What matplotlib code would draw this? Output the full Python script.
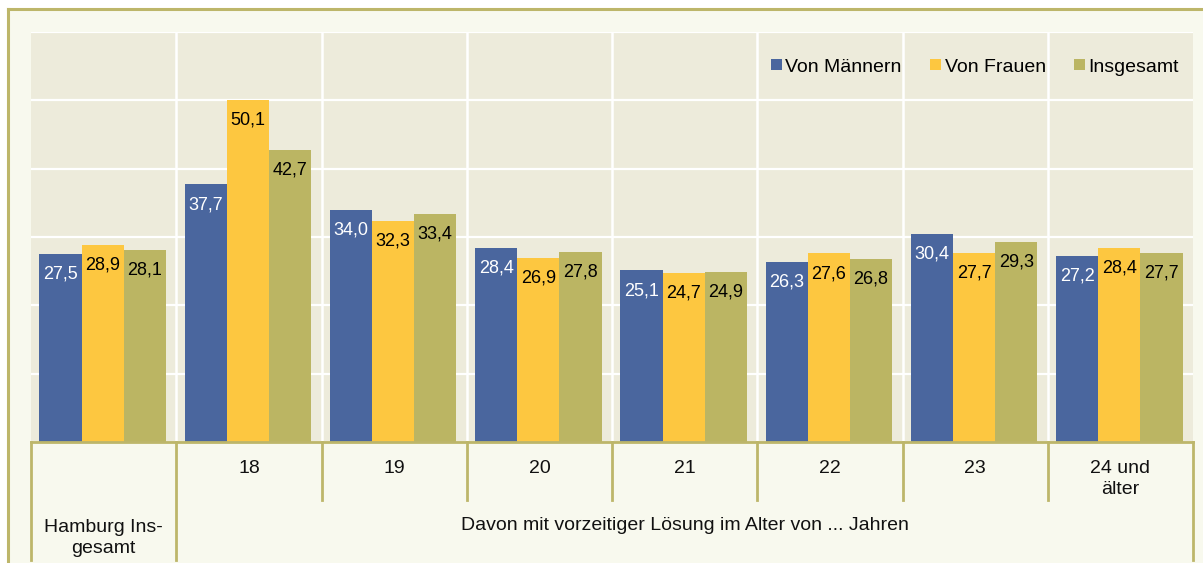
import matplotlib
matplotlib.use("Agg")
import matplotlib.pyplot as plt
import matplotlib.transforms as mtransforms
from matplotlib.patches import Rectangle, Patch
from matplotlib.lines import Line2D
import numpy as np

plt.rcParams['font.family'] = ['Liberation Sans', 'DejaVu Sans']

categories = ["", "18", "19", "20", "21", "22", "23", "24 und\nälter"]
group_labels = ["Hamburg Ins-\ngesamt", "Davon mit vorzeitiger Lösung im Alter von ... Jahren"]
series_names = ["Von Männern", "Von Frauen", "Insgesamt"]
maenner = [27.5, 37.7, 34.0, 28.4, 25.1, 26.3, 30.4, 27.2]
frauen = [28.9, 50.1, 32.3, 26.9, 24.7, 27.6, 27.7, 28.4]
insgesamt = [28.1, 42.7, 33.4, 27.8, 24.9, 26.8, 29.3, 27.7]

colors = ["#4A669E", "#FDC740", "#BBB563"]
label_colors = ["white", "black", "black"]
border = "#BDB66A"
W, H = 1203, 563

fig = plt.figure(figsize=(W / 100, H / 100), dpi=100, facecolor="white")

def fx(px):
    return px / W

def fy(py):
    return 1 - py / H

# outer background box
fig.patches.append(Rectangle((fx(8), 0), 1 - fx(8), fy(9), transform=fig.transFigure,
                             facecolor="#F8F9EE", edgecolor="none", zorder=-10))
fig.lines.append(Line2D([fx(8), 1], [fy(9), fy(9)], transform=fig.transFigure, color=border, lw=2.2))
fig.lines.append(Line2D([fx(8), fx(8)], [fy(9), 0], transform=fig.transFigure, color=border, lw=2.2))

ax = fig.add_axes([fx(31), fy(442), fx(1193) - fx(31), fy(32) - fy(442)])
ax.set_facecolor("#EDEBDB")
ax.set_xlim(-0.5, len(categories) - 0.5)
ax.set_ylim(0, 60)

for v in range(10, 61, 10):
    ax.axhline(v, color="white", lw=1.6, zorder=1)
for b in np.arange(0.5, len(categories) - 0.5, 1):
    ax.axvline(b, color="white", lw=1.8, zorder=1)

x = np.arange(len(categories))
w = 0.29
for k, (vals, c, lc) in enumerate(zip([maenner, frauen, insgesamt], colors, label_colors)):
    xs = x + (k - 1) * w - 0.007
    ax.bar(xs, vals, width=w, color=c, zorder=2, linewidth=0)
    for xi, v in zip(xs, vals):
        ax.annotate(f"{v:.1f}".replace(".", ","), (xi, v), xytext=(0, -14.5),
                    textcoords="offset points", ha="center", va="center",
                    color=lc, fontsize=13, zorder=3)

ax.set_xticks([])
ax.set_yticks([])
for s in ax.spines.values():
    s.set_visible(False)

# table below the axis
tr = mtransforms.blended_transform_factory(ax.transData, fig.transFigure)
fig.lines.append(Line2D([fx(31), fx(1193)], [fy(442), fy(442)], transform=fig.transFigure,
                        color=border, lw=2))
for b in [-0.5, 0.5, len(categories) - 0.5]:
    ax.add_line(Line2D([b, b], [fy(442), fy(560)], transform=tr, color=border, lw=2, clip_on=False))
for b in np.arange(1.5, len(categories) - 1, 1):
    ax.add_line(Line2D([b, b], [fy(442), fy(500)], transform=tr, color=border, lw=2, clip_on=False))

for xi, lab in zip(x, categories):
    if lab:
        ax.text(xi, fy(460), lab, transform=tr, ha="center", va="top", fontsize=14,
                color="#111111", linespacing=1.3)

ax.text(0, fy(538), group_labels[0], transform=tr, ha="center", va="center", fontsize=14,
        color="#111111", linespacing=1.3)
ax.text((1 + len(categories) - 1) / 2, fy(525), group_labels[1], transform=tr, ha="center",
        va="center", fontsize=14, color="#111111")

handles = [Patch(facecolor=c, edgecolor="none") for c in colors]
fig.legend(handles, series_names, loc="center right", bbox_to_anchor=(fx(1179), fy(67)),
           ncol=3, frameon=False, fontsize=14, handlelength=0.55, handleheight=0.55,
           handletextpad=0.2, columnspacing=1.45, borderpad=0, borderaxespad=0)

fig.savefig("out.png", dpi=100, facecolor=fig.get_facecolor())
